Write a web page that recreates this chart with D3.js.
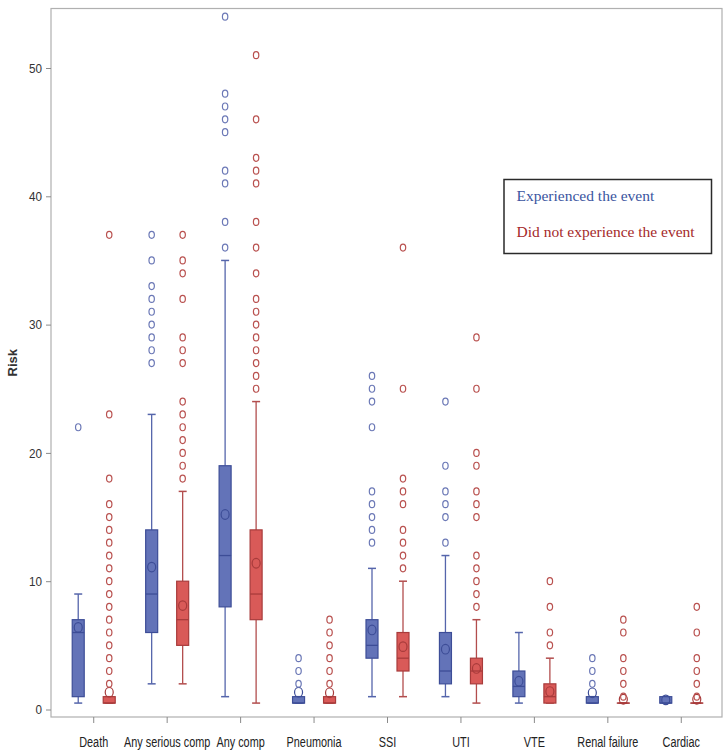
<!DOCTYPE html>
<html>
<head>
<meta charset="utf-8">
<script src="https://cdn.jsdelivr.net/npm/d3@7"></script>
<style>
  html, body { margin: 0; padding: 0; background: #fff; }
  svg { display: block; }
</style>
</head>
<body>
<svg id="chart" width="728" height="755"></svg>
<script>
const categories = ["Death", "Any serious comp", "Any comp", "Pneumonia", "SSI", "UTI", "VTE", "Renal failure", "Cardiac"];
const groups = ["Experienced the event", "Did not experience the event"];
const yTicks = [0, 10, 20, 30, 40, 50];

// Experienced the event (blue)
const expQ1     = [1, 6, 8, 0.5, 4, 2, 1, 0.5, 0.5];
const expMedian = [6, 9, 12, 0.5, 5, 3, 1.8, 0.5, 0.5];
const expQ3     = [7, 14, 19, 1, 7, 6, 3, 1, 1];
const expLow    = [0.5, 2, 1, 0.5, 1, 1, 0.5, 0.5, 0.5];
const expHigh   = [9, 23, 35, 1, 11, 12, 6, 1, 1];
const expMean   = [6.4, 11.1, 15.2, 1.35, 6.2, 4.7, 2.2, 1.3, 0.75];
const expOutliers = [
  [22],
  [27, 28, 29, 30, 31, 32, 33, 35, 37],
  [36, 38, 41, 42, 45, 46, 47, 48, 54],
  [2, 3, 4],
  [13, 14, 15, 16, 17, 22, 24, 25, 26],
  [13, 15, 16, 17, 19, 24],
  [],
  [2, 3, 4],
  []
];

// Did not experience the event (red)
const notQ1     = [0.5, 5, 7, 0.5, 3, 2, 0.5, 0.5, 0.5];
const notMedian = [0.5, 7, 9, 0.5, 4, 3, 1, 0.5, 0.5];
const notQ3     = [1, 10, 14, 1, 6, 4, 2, 0.5, 0.5];
const notLow    = [0.5, 2, 0.5, 0.5, 1, 0.5, 0.5, 0.5, 0.5];
const notHigh   = [1, 17, 24, 1, 10, 7, 4, 0.5, 0.5];
const notMean   = [1.35, 8.1, 11.4, 1.3, 4.9, 3.2, 1.4, 0.8, 0.8];
const notOutliers = [
  [2, 3, 4, 5, 6, 7, 8, 9, 10, 11, 12, 13, 14, 15, 16, 18, 23, 37],
  [18, 19, 20, 21, 22, 23, 24, 27, 28, 29, 32, 34, 35, 37],
  [25, 26, 27, 28, 29, 30, 31, 32, 34, 36, 38, 41, 42, 43, 46, 51],
  [2, 3, 4, 5, 6, 7],
  [11, 12, 13, 14, 16, 17, 18, 25, 36],
  [8, 9, 10, 11, 12, 15, 16, 17, 19, 20, 25, 29],
  [5, 6, 8, 10],
  [1, 2, 3, 4, 6, 7],
  [1, 2, 3, 4, 6, 8]
];

const styles = [
  { fill: "#6373b8", stroke: "#3d4d97", whisker: "#5565ab", outlier: "#6b78b6", text: "#3a55a0" },
  { fill: "#d95a58", stroke: "#a83b3b", whisker: "#b24d4d", outlier: "#b9514f", text: "#a52a2a" }
];

const seriesData = [
  { q1: expQ1, med: expMedian, q3: expQ3, lo: expLow, hi: expHigh, mean: expMean, out: expOutliers },
  { q1: notQ1, med: notMedian, q3: notQ3, lo: notLow, hi: notHigh, mean: notMean, out: notOutliers }
];

const frame = { left: 51, right: 722, top: 8.5, bottom: 717 };
const svg = d3.select("#chart");

const x = d3.scaleBand().domain(categories).range([57, 718]).padding(0);
const xOff = d3.scalePoint().domain(groups).range([-15.5, 15.5]);
const y = d3.scaleLinear().domain([0, 50]).range([709.5, 68]);

// frame
svg.append("rect")
  .attr("x", frame.left).attr("y", frame.top)
  .attr("width", frame.right - frame.left).attr("height", frame.bottom - frame.top)
  .attr("fill", "none").attr("stroke", "#b0b0b0").attr("stroke-width", 1.2);

// y axis
const yAxis = d3.axisLeft(y).tickValues(yTicks).tickSize(5).tickPadding(4).tickFormat(d3.format("d"));
const gy = svg.append("g").attr("transform", `translate(${frame.left},0)`).call(yAxis);
gy.select(".domain").remove();
gy.selectAll("line").attr("stroke", "#8a8a8a");
gy.selectAll("text").attr("font-family", "Liberation Sans, Arial, sans-serif")
  .attr("font-size", 13).attr("fill", "#333")
  .each(function() {
    const t = d3.select(this);
    const xx = +t.attr("x");
    t.attr("transform", `translate(${xx},0) scale(0.9,1) translate(${-xx},0)`);
  });

// x axis
const xAxis = d3.axisBottom(x).tickSize(6).tickPadding(5);
const gx = svg.append("g").attr("transform", `translate(0,${frame.bottom})`).call(xAxis);
gx.select(".domain").remove();
gx.selectAll("line").attr("stroke", "#8a8a8a");
gx.selectAll(".tick").each(function(d) {
  const t = d3.select(this).select("text");
  t.attr("font-family", "Liberation Sans, Arial, sans-serif")
    .attr("font-size", 14.5).attr("fill", "#222")
    .attr("dy", "1.3em")
    .attr("transform", "scale(0.75,1)");
});

// y label
svg.append("text")
  .attr("transform", `translate(17,${(frame.top + frame.bottom) / 2}) rotate(-90)`)
  .attr("text-anchor", "middle")
  .attr("font-family", "Liberation Sans, Arial, sans-serif")
  .attr("font-size", 13).attr("font-weight", "bold").attr("fill", "#333")
  .text("Risk");

// boxes
const boxW = 12, capW = 8;
groups.forEach((g, gi) => {
  const s = seriesData[gi];
  const st = styles[gi];
  const layer = svg.append("g");
  categories.forEach((c, i) => {
    const cx = x(c) + x.bandwidth() / 2 + xOff(g);
    layer.append("line")
      .attr("x1", cx).attr("x2", cx).attr("y1", y(s.q3[i])).attr("y2", y(s.hi[i]))
      .attr("stroke", st.whisker).attr("stroke-width", 1.3);
    layer.append("line")
      .attr("x1", cx).attr("x2", cx).attr("y1", y(s.q1[i])).attr("y2", y(s.lo[i]))
      .attr("stroke", st.whisker).attr("stroke-width", 1.3);
    [s.hi[i], s.lo[i]].forEach(v => {
      layer.append("line")
        .attr("x1", cx - capW / 2).attr("x2", cx + capW / 2).attr("y1", y(v)).attr("y2", y(v))
        .attr("stroke", st.whisker).attr("stroke-width", 1.5);
    });
    const top = y(s.q3[i]), bot = y(s.q1[i]);
    layer.append("rect")
      .attr("x", cx - boxW / 2).attr("y", top)
      .attr("width", boxW).attr("height", Math.max(bot - top, 0.01))
      .attr("fill", st.fill).attr("stroke", st.stroke).attr("stroke-width", 1.2);
    layer.append("line")
      .attr("x1", cx - boxW / 2).attr("x2", cx + boxW / 2)
      .attr("y1", y(s.med[i])).attr("y2", y(s.med[i]))
      .attr("stroke", st.stroke).attr("stroke-width", 1.3);
    layer.append("ellipse")
      .attr("cx", cx).attr("cy", y(s.mean[i]))
      .attr("rx", 4).attr("ry", 4.8)
      .attr("fill", "none").attr("stroke", st.stroke).attr("stroke-width", 1.2);
    s.out[i].forEach(v => {
      layer.append("ellipse")
        .attr("cx", cx).attr("cy", y(v))
        .attr("rx", 2.7).attr("ry", 3.5)
        .attr("fill", "none").attr("stroke", st.outlier).attr("stroke-width", 1.2);
    });
  });
});

// legend
const lg = svg.append("g");
lg.append("rect")
  .attr("x", 504).attr("y", 179.5).attr("width", 207.5).attr("height", 74)
  .attr("fill", "#fff").attr("stroke", "#2a2a2a").attr("stroke-width", 1.5);
groups.forEach((g, gi) => {
  lg.append("text")
    .attr("x", 516.5).attr("y", 200.5 + gi * 36)
    .attr("font-family", "Liberation Serif, Times New Roman, serif")
    .attr("font-size", 15.5)
    .attr("fill", styles[gi].text)
    .text(g);
});
</script>
</body>
</html>
